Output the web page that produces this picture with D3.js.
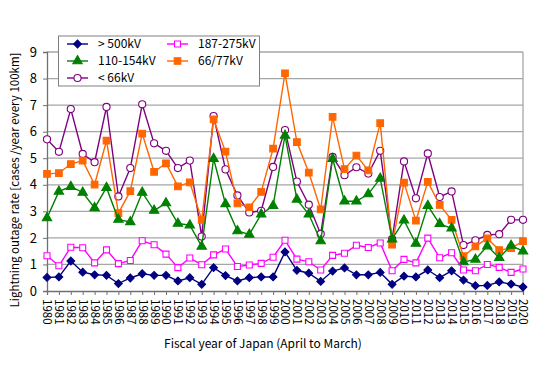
<!DOCTYPE html>
<html><head><meta charset="utf-8">
<script src="https://cdn.jsdelivr.net/npm/d3@7"></script>
<style>body{margin:0;background:#fff}svg{display:block}</style>
</head><body>
<svg id="c" width="538" height="380"></svg>
<script>
const years = d3.range(1980, 2021);
const yTicks = [0,1,2,3,4,5,6,7,8,9];
const seriesNames = ["> 500kV","187-275kV","110-154kV","66/77kV","< 66kV"];
const kv500 = [0.51,0.53,1.13,0.71,0.61,0.59,0.28,0.49,0.65,0.59,0.59,0.38,0.50,0.25,0.88,0.58,0.38,0.50,0.53,0.53,1.47,0.78,0.67,0.36,0.75,0.87,0.61,0.61,0.70,0.25,0.56,0.53,0.79,0.50,0.76,0.41,0.20,0.21,0.34,0.26,0.15];
const kv187 = [1.33,0.95,1.65,1.63,1.06,1.55,1.03,1.15,1.89,1.74,1.39,0.88,1.24,0.99,1.36,1.58,0.92,0.98,1.04,1.27,1.91,1.20,1.10,0.79,1.34,1.42,1.72,1.64,1.81,0.76,1.19,1.06,1.99,1.25,1.44,0.79,0.76,1.00,0.89,0.70,0.83];
const kv110 = [2.75,3.75,3.93,3.71,3.13,3.89,2.69,2.60,3.71,3.03,3.31,2.54,2.48,1.68,4.98,3.28,2.26,2.13,2.89,3.21,5.86,3.45,2.89,1.88,4.98,3.38,3.38,3.65,4.24,1.95,2.66,1.79,3.21,2.53,2.36,1.09,1.19,1.69,1.25,1.71,1.50];
const kv66 = [4.41,4.44,4.78,4.91,4.01,5.66,2.93,3.76,5.93,4.49,4.81,3.94,4.09,2.68,6.46,5.25,3.30,3.15,3.73,5.36,8.20,5.61,4.46,3.07,6.56,4.59,5.10,4.54,6.32,1.75,4.08,2.65,4.11,3.24,2.68,1.31,1.68,1.98,1.54,1.61,1.88];
const kvLt66 = [5.71,5.24,6.85,5.16,4.85,6.93,3.56,4.63,7.03,5.56,5.28,4.63,4.91,2.05,6.59,4.58,3.60,2.96,3.02,4.67,6.06,4.12,3.25,2.15,5.05,4.36,4.66,4.42,5.28,1.95,4.88,3.49,5.18,3.54,3.75,1.73,1.91,2.11,2.14,2.68,2.68];

const svg = d3.select("#c");
const L = 47, R = 523, T = 52, B = 291;
const x = d3.scaleLinear().domain([1980, 2020]).range([L, R]);
const y = d3.scaleLinear().domain([0, 9]).range([B, T]);
const font = "'Noto Sans CJK JP', 'Noto Sans', sans-serif";

// grid
svg.append("g").selectAll("line").data(yTicks.slice(1)).join("line")
  .attr("x1", L).attr("x2", R).attr("y1", d => y(d)).attr("y2", d => y(d))
  .attr("stroke", "#a6a6a6").attr("stroke-width", 1.3);
// right border
svg.append("line").attr("x1", R).attr("x2", R).attr("y1", T).attr("y2", B)
  .attr("stroke", "#a6a6a6").attr("stroke-width", 1.3);

// axes
const yAxis = svg.append("g").attr("transform", `translate(${L},0)`)
  .call(d3.axisLeft(y).tickValues(yTicks).tickSize(4).tickPadding(6).tickFormat(d3.format("d")));
yAxis.select(".domain").attr("stroke", "#707070").attr("stroke-width", 1.3);
yAxis.selectAll(".tick line").attr("stroke", "#707070");
yAxis.selectAll("text").attr("font-family", font).attr("font-size", 13).attr("fill", "#000");

const xAxis = svg.append("g").attr("transform", `translate(0,${B})`)
  .call(d3.axisBottom(x).tickValues(years).tickSize(4).tickFormat(d3.format("d")));
xAxis.select(".domain").attr("stroke", "#707070").attr("stroke-width", 1.3);
xAxis.selectAll(".tick line").attr("stroke", "#707070");
xAxis.selectAll("text").attr("font-family", font).attr("font-size", 11.5).attr("fill", "#000")
  .attr("transform", "rotate(90)").attr("text-anchor", "start").attr("dy", "0.35em")
  .attr("x", 8).attr("y", 0);

// axis labels
svg.append("text").attr("x", 263).attr("y", 348).attr("text-anchor", "middle")
  .attr("font-family", font).attr("font-size", 12).text("Fiscal year of Japan (April to March)");
svg.append("text").attr("transform", "translate(19,180) rotate(-90)").attr("text-anchor", "middle")
  .attr("font-family", font).attr("font-size", 11.5).text("Lightning outage rate [cases /year every 100km]");

const series = [
  {name: seriesNames[0], vals: kv500, color: "#000080", sym: d3.symbolSquare, rot: 45, size: 30, fill: "#000080"},
  {name: seriesNames[1], vals: kv187, color: "#ff00ff", sym: d3.symbolSquare, rot: 0, size: 36, fill: "#fff"},
  {name: seriesNames[2], vals: kv110, color: "#008000", sym: d3.symbolTriangle, rot: 0, size: 38, fill: "#008000"},
  {name: seriesNames[3], vals: kv66, color: "#ff6600", sym: d3.symbolSquare, rot: 0, size: 44, fill: "#ff6600"},
  {name: seriesNames[4], vals: kvLt66, color: "#800080", sym: d3.symbolCircle, rot: 0, size: 40, fill: "#fff"},
];
const line = d3.line().x((d, i) => x(years[i])).y(d => y(d));
const drawOrder = [4, 3, 2, 1, 0];
drawOrder.forEach(k => {
  const s = series[k];
  const g = svg.append("g");
  g.append("path").datum(s.vals).attr("d", line).attr("fill", "none")
    .attr("stroke", s.color).attr("stroke-width", 1.4);
  g.selectAll("path.m").data(s.vals).join("path").attr("class", "m")
    .attr("transform", (d, i) => `translate(${x(years[i])},${y(d)}) rotate(${s.rot})`)
    .attr("d", d3.symbol().type(s.sym).size(s.size))
    .attr("fill", s.fill).attr("stroke", s.color).attr("stroke-width", 1.1);
});

// legend
const lg = svg.append("g");
lg.append("rect").attr("x", 58.5).attr("y", 36).attr("width", 201).attr("height", 50)
  .attr("fill", "#fff").attr("stroke", "#808080").attr("stroke-width", 1);
const pos = [[67, 44], [167, 44], [67, 61], [167, 61], [67, 78]];
series.forEach((s, i) => {
  const [px, py] = pos[i];
  lg.append("line").attr("x1", px).attr("x2", px + 21).attr("y1", py).attr("y2", py)
    .attr("stroke", s.color).attr("stroke-width", 1.4);
  lg.append("path").attr("transform", `translate(${px + 10.5},${py}) rotate(${s.rot})`)
    .attr("d", d3.symbol().type(s.sym).size(s.size))
    .attr("fill", s.fill).attr("stroke", s.color).attr("stroke-width", 1.1);
  lg.append("text").attr("x", px + 31).attr("y", py).attr("dy", "0.35em")
    .attr("font-family", font).attr("font-size", 12).text(s.name);
});
</script>
</body></html>
